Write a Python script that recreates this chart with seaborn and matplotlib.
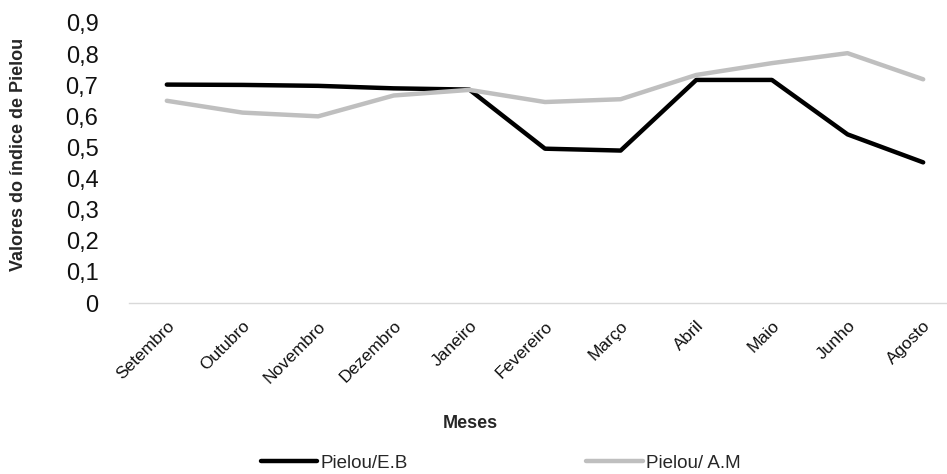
import matplotlib
matplotlib.use("Agg")
import matplotlib.pyplot as plt
import seaborn as sns
import pandas as pd
from matplotlib.ticker import FuncFormatter
from matplotlib.lines import Line2D

meses = ["Setembro", "Outubro", "Novembro", "Dezembro", "Janeiro", "Fevereiro",
         "Março", "Abril", "Maio", "Junho", "Agosto"]
pielou_eb = [0.702, 0.701, 0.698, 0.690, 0.686, 0.496, 0.490, 0.717, 0.717, 0.542, 0.452]
pielou_am = [0.650, 0.612, 0.600, 0.667, 0.685, 0.646, 0.655, 0.733, 0.771, 0.803, 0.719]

df = pd.DataFrame({
    "Mês": meses * 2,
    "Valor": pielou_eb + pielou_am,
    "Série": ["Pielou/E.B"] * len(meses) + ["Pielou/ A.M"] * len(meses),
})

sns.set_theme(style="white")
plt.rcParams["font.family"] = ["Liberation Sans", "DejaVu Sans"]

fig = plt.figure(figsize=(9.47, 4.74), dpi=100)
ax = fig.add_axes([129 / 947, (474 - 303) / 474, 832 / 947, (303 - 23) / 474])

sns.lineplot(data=df, x="Mês", y="Valor", hue="Série", sort=False,
             palette={"Pielou/E.B": "#000000", "Pielou/ A.M": "#bfbfbf"},
             linewidth=3.2, ax=ax, legend=False)

ax.set_xlim(-0.5, len(meses) - 0.5)
ax.set_ylim(0, 0.9)
ax.set_yticks([i / 10 for i in range(10)])
ax.yaxis.set_major_formatter(FuncFormatter(lambda v, p: "0" if v == 0 else f"{v:.1f}".replace(".", ",")))
ax.tick_params(axis="y", length=0, pad=22, labelsize=17, labelcolor="#111111")
ax.tick_params(axis="x", length=0, pad=11, labelsize=12.5, labelcolor="#111111")
for lbl in ax.get_xticklabels():
    lbl.set_rotation(45)
    lbl.set_ha("right")
    lbl.set_rotation_mode("anchor")

for s in ["top", "right", "left"]:
    ax.spines[s].set_visible(False)
ax.spines["bottom"].set_color("#d9d9d9")
ax.spines["bottom"].set_linewidth(1)

ax.set_xlabel("")
ax.set_ylabel("")
fig.text(470 / 947, 1 - 424 / 474, "Meses", ha="center", va="center",
         fontsize=13, fontweight="bold")
fig.text(19 / 947, 1 - 154 / 474, "Valores do índice de Pielou", ha="center", va="center",
         rotation=90, fontsize=13, fontweight="bold")

# legend along the bottom
handles = [Line2D([], [], color="#000000", lw=3.2), Line2D([], [], color="#bfbfbf", lw=3.2)]
fig.legend(handles, ["Pielou/E.B", "Pielou/ A.M"], loc="center",
           bbox_to_anchor=(501 / 947, 1 - 463 / 474), ncol=2, frameon=False,
           fontsize=13.5, handlelength=3.0, handletextpad=0.2, columnspacing=9.5)

fig.savefig("out.png", dpi=100, facecolor="white")
